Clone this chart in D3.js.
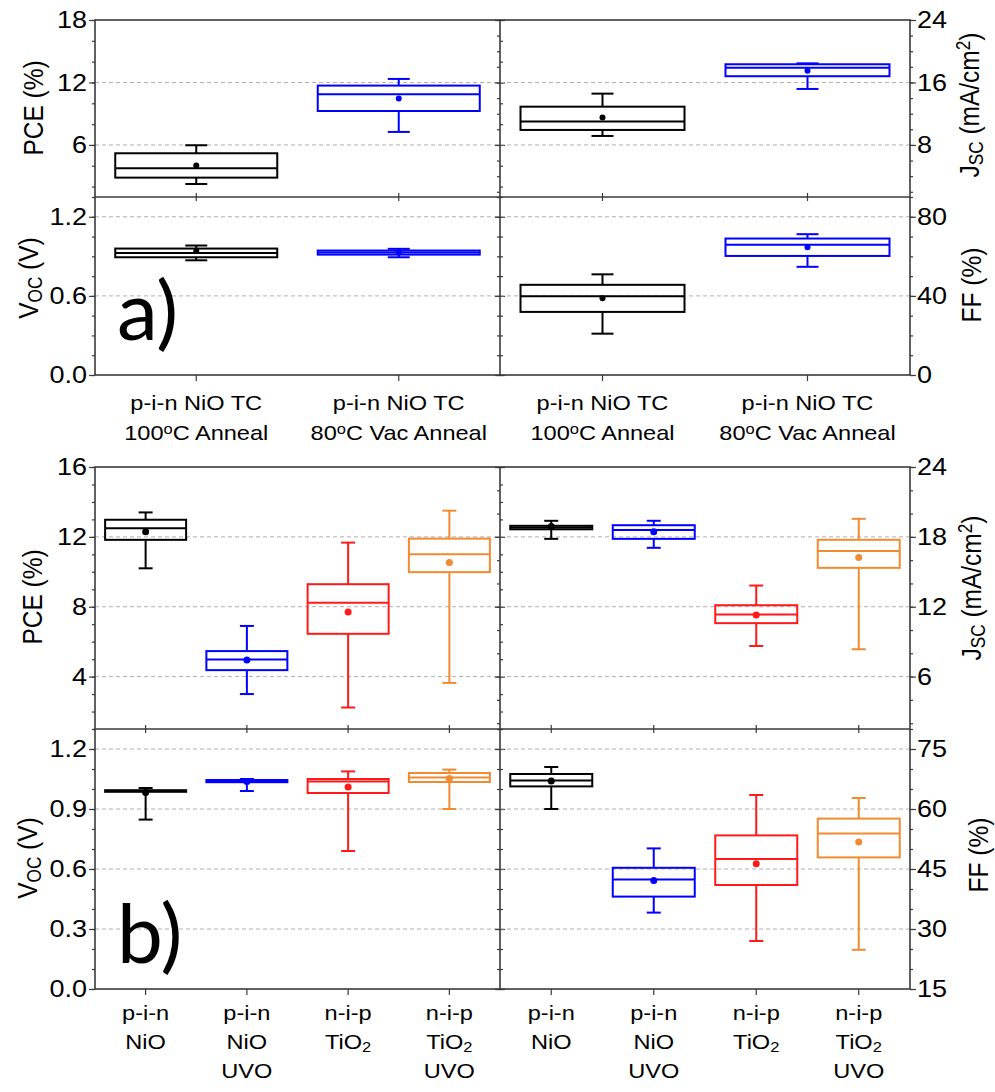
<!DOCTYPE html>
<html>
<head>
<meta charset="utf-8">
<script src="https://cdn.jsdelivr.net/npm/d3@7"></script>
<style>
  body { margin: 0; background: #fff; }
  svg { display: block; }
</style>
</head>
<body>
<script>
// category labels, one entry per line; _{..} = subscript, ^{..} = superscript
var catsA = [['p-i-n NiO TC', '100^{o}C Anneal'], ['p-i-n NiO TC', '80^{o}C Vac Anneal']];
var catsB = [['p-i-n', 'NiO'], ['p-i-n', 'NiO', 'UVO'], ['n-i-p', 'TiO_{2}'], ['n-i-p', 'TiO_{2}', 'UVO']];
var colorsA = ['#000000', '#0000ff'];
var colorsB = ['#000000', '#0000ff', '#ff1a1a', '#f28a30'];

// box stats: [whisker low, Q1, median, Q3, whisker high, mean]
var pceA = [[2.25, 2.86, 3.76, 5.2, 5.97, 4.02], [7.25, 9.26, 10.87, 11.7, 12.34, 10.45]];
var jscA = [[9.15, 9.92, 11.0, 12.9, 14.57, 11.5], [15.17, 16.8, 17.9, 18.33, 18.45, 17.5]];
var vocA = [[0.87, 0.893, 0.926, 0.959, 0.982, 0.94], [0.893, 0.913, 0.93, 0.944, 0.957, 0.93]];
var ffA = [[20.9, 31.9, 39.8, 45.6, 50.9, 38.8], [54.7, 60.2, 65.8, 69.0, 71.2, 64.6]];

var pceB = [[10.2, 11.83, 12.5, 12.98, 13.4, 12.3], [3.0, 4.37, 4.98, 5.46, 6.9, 4.95],
            [2.23, 6.45, 8.23, 9.29, 11.67, 7.7], [3.64, 9.98, 11.0, 11.9, 13.5, 10.53]];
var jscB = [[17.83, 18.65, 18.8, 18.95, 19.38, 18.9], [17.06, 17.83, 18.58, 19.0, 19.38, 18.44],
            [8.63, 10.59, 11.33, 12.13, 13.82, 11.3], [8.35, 15.34, 16.78, 17.75, 19.55, 16.23]];
var vocB = [[0.847, 0.986, 0.99, 0.994, 1.005, 0.983], [0.99, 1.034, 1.04, 1.045, 1.05, 1.038],
            [0.69, 0.98, 1.037, 1.05, 1.088, 1.01], [0.9, 1.035, 1.057, 1.08, 1.097, 1.053]];
var ffB = [[60.0, 65.65, 67.15, 68.75, 70.5, 67.0], [34.1, 38.1, 42.4, 45.3, 50.15, 42.15],
           [27.0, 41.0, 47.5, 53.4, 63.5, 46.3], [24.8, 47.9, 53.9, 57.6, 62.75, 51.75]];

// tick values
var pceATicks = [6, 12, 18], jscATicks = [8, 16, 24], vocATicks = [0, 0.6, 1.2], ffATicks = [0, 40, 80];
var pceBTicks = [4, 8, 12, 16], jscBTicks = [6, 12, 18, 24], vocBTicks = [0, 0.3, 0.6, 0.9, 1.2], ffBTicks = [15, 30, 45, 60, 75];

var W = 995, H = 1092;
var SX = 1.15; // the source figure is stretched horizontally
var FONT = "'Liberation Sans', Arial, sans-serif";
var FRAME = '#3a3a3a';

var svg = d3.select('body').append('svg').attr('width', W).attr('height', H)
  .style('font-family', FONT);

function rich(t, str) {
  str.split(/([_^]\{[^}]*\})/).forEach(function(p) {
    if (!p) return;
    var m = p.match(/^([_^])\{([^}]*)\}$/);
    if (m) {
      t.append('tspan').attr('font-size', '70%')
        .attr('baseline-shift', m[1] === '_' ? '-22%' : '45%').text(m[2]);
    } else {
      t.append('tspan').text(p);
    }
  });
}

function label(g, x, y, str, size, anchor, rotate, dy) {
  var t = g.append('text')
    .attr('transform', 'translate(' + x + ',' + y + ') scale(' + SX + ',1)' + (rotate ? ' rotate(-90)' : ''))
    .attr('text-anchor', anchor)
    .attr('font-size', size)
    .attr('fill', '#000');
  if (dy) t.attr('dy', dy);
  rich(t, str);
  return t;
}

function minorTicks(domain, step) {
  var out = [];
  var start = Math.ceil(domain[0] / step - 1e-6);
  for (var k = start; k * step <= domain[1] + 1e-9; k++) out.push(+(k * step).toFixed(6));
  return out;
}

function drawPanel(p) {
  var g = svg.append('g');
  var n = p.data.length;
  var x = d3.scaleBand().domain(d3.range(n)).range([p.x0, p.x1]);
  var y = d3.scaleLinear().domain(p.domain).range([p.y1, p.y0]);

  // grid
  g.selectAll('line.grid').data(p.ticks.filter(function(t) { return y(t) > p.y0 + 1 && y(t) < p.y1 - 1; }))
    .enter().append('line')
    .attr('x1', p.x0).attr('x2', p.x1)
    .attr('y1', function(d) { return y(d); }).attr('y2', function(d) { return y(d); })
    .attr('stroke', '#b0b0b0').attr('stroke-width', 1).attr('stroke-dasharray', '4,3');

  // y tick marks: outward on the outer edge, across the divider on the inner edge
  var outerX = p.side === 'left' ? p.x0 : p.x1;
  var innerX = p.side === 'left' ? p.x1 : p.x0;
  var yAxis = p.side === 'left' ? d3.axisLeft : d3.axisRight;
  var minors = minorTicks(p.domain, p.minor);
  [[outerX, 6, 3], [innerX, -5, -3]].forEach(function(a) {
    var gm = g.append('g').attr('transform', 'translate(' + a[0] + ',0)')
      .call(yAxis(y).tickValues(minors).tickSize(a[2]).tickFormat(''));
    var gM = g.append('g').attr('transform', 'translate(' + a[0] + ',0)')
      .call(yAxis(y).tickValues(p.ticks).tickSize(a[1]).tickFormat(''));
    [gm, gM].forEach(function(s) {
      s.select('.domain').remove();
      s.selectAll('line').attr('stroke', FRAME).attr('stroke-width', 1.2);
    });
  });

  // y tick labels
  p.ticks.forEach(function(t) {
    if (p.side === 'left') label(g, p.x0 - 8, y(t), p.fmt(t), 23.5, 'end', false, '0.36em');
    else label(g, p.x1 + 7, y(t), p.fmt(t), 23.5, 'start', false, '0.36em');
  });

  // x tick marks
  var xt = function(axis, yy, size) {
    var s = g.append('g').attr('transform', 'translate(0,' + yy + ')')
      .call(axis(x).tickSize(size).tickFormat(''));
    s.select('.domain').remove();
    s.selectAll('line').attr('stroke', FRAME).attr('stroke-width', 1.2);
  };
  if (p.row === 'top') {
    xt(d3.axisTop, p.y1, 4);
  } else {
    xt(d3.axisBottom, p.y0, 4);
    xt(d3.axisBottom, p.y1, 6);
  }

  // boxes
  var bw = x.bandwidth() * 0.8;
  var boxes = g.selectAll('g.box').data(p.data).enter().append('g')
    .attr('stroke', function(d, i) { return p.colors[i]; })
    .attr('fill', 'none').attr('stroke-width', 2);
  var cx = function(i) { return x(i) + x.bandwidth() / 2; };
  boxes.append('rect')
    .attr('x', function(d, i) { return cx(i) - bw / 2; })
    .attr('width', bw)
    .attr('y', function(d) { return y(d[3]); })
    .attr('height', function(d) { return Math.max(0.5, y(d[1]) - y(d[3])); });
  boxes.append('line')
    .attr('x1', function(d, i) { return cx(i) - bw / 2; })
    .attr('x2', function(d, i) { return cx(i) + bw / 2; })
    .attr('y1', function(d) { return y(d[2]); }).attr('y2', function(d) { return y(d[2]); });
  [[3, 4], [1, 0]].forEach(function(pair) {
    boxes.append('line')
      .attr('x1', function(d, i) { return cx(i); }).attr('x2', function(d, i) { return cx(i); })
      .attr('y1', function(d) { return y(d[pair[0]]); }).attr('y2', function(d) { return y(d[pair[1]]); });
    boxes.append('line')
      .attr('x1', function(d, i) { return cx(i) - p.cap / 2; })
      .attr('x2', function(d, i) { return cx(i) + p.cap / 2; })
      .attr('y1', function(d) { return y(d[pair[1]]); }).attr('y2', function(d) { return y(d[pair[1]]); });
  });
  boxes.append('circle')
    .attr('cx', function(d, i) { return cx(i); })
    .attr('cy', function(d) { return y(d[5]); })
    .attr('r', p.dot)
    .attr('stroke', 'none')
    .attr('fill', function(d, i) { return p.colors[i]; });

  // category labels
  if (p.row === 'bottom') {
    p.cats.forEach(function(lines, i) {
      lines.forEach(function(line, j) {
        label(g, cx(i), p.labelY + j * p.lineH, line, 20.5, 'middle', false);
      });
    });
  }

  // axis title
  label(g, p.titleX, p.titleY, p.title, 24.5, 'middle', true);
}

function drawFrame(b) {
  var g = svg.append('g').attr('stroke', FRAME).attr('stroke-width', 1.6).attr('fill', 'none');
  g.append('rect').attr('x', b.x0).attr('y', b.y0).attr('width', b.x2 - b.x0).attr('height', b.y2 - b.y0);
  g.append('line').attr('x1', b.xm).attr('x2', b.xm).attr('y1', b.y0).attr('y2', b.y2);
  g.append('line').attr('x1', b.x0).attr('x2', b.x2).attr('y1', b.ym).attr('y2', b.ym);
}

var f0 = d3.format('d'), f1 = d3.format('.1f');
var blockA = { x0: 95, xm: 500, x2: 910, y0: 20, ym: 197, y2: 375 };
var blockB = { x0: 95, xm: 500, x2: 910, y0: 467, ym: 729, y2: 989 };

function panelsFor(b, sets, extra) {
  return sets.map(function(s) {
    var o = {
      x0: s.side === 'left' ? b.x0 : b.xm, x1: s.side === 'left' ? b.xm : b.x2,
      y0: s.row === 'top' ? b.y0 : b.ym, y1: s.row === 'top' ? b.ym : b.y2
    };
    for (var k in extra) o[k] = extra[k];
    for (var k2 in s) o[k2] = s[k2];
    return o;
  });
}

var panels = panelsFor(blockA, [
  { side: 'left', row: 'top', data: pceA, domain: [1, 18], ticks: pceATicks, minor: 2, fmt: f0,
    title: 'PCE (%)', titleX: 43, titleY: 108 },
  { side: 'right', row: 'top', data: jscA, domain: [4 / 3, 24], ticks: jscATicks, minor: 2, fmt: f0,
    title: 'J_{SC} (mA/cm^{2})', titleX: 979, titleY: 105 },
  { side: 'left', row: 'bottom', data: vocA, domain: [0, 1.35], ticks: vocATicks, minor: 0.15, fmt: f1,
    title: 'V_{OC} (V)', titleX: 38, titleY: 278 },
  { side: 'right', row: 'bottom', data: ffA, domain: [0, 90], ticks: ffATicks, minor: 10, fmt: f0,
    title: 'FF (%)', titleX: 981, titleY: 285 }
], { cats: catsA, colors: colorsA, cap: 22, dot: 3, labelY: 410, lineH: 30 })
.concat(panelsFor(blockB, [
  { side: 'left', row: 'top', data: pceB, domain: [1, 16], ticks: pceBTicks, minor: 1, fmt: f0,
    title: 'PCE (%)', titleX: 42, titleY: 597 },
  { side: 'right', row: 'top', data: jscB, domain: [1.5, 24], ticks: jscBTicks, minor: 2, fmt: f0,
    title: 'J_{SC} (mA/cm^{2})', titleX: 981, titleY: 588 },
  { side: 'left', row: 'bottom', data: vocB, domain: [0, 1.3], ticks: vocBTicks, minor: 0.1, fmt: f1,
    title: 'V_{OC} (V)', titleX: 37, titleY: 858 },
  { side: 'right', row: 'bottom', data: ffB, domain: [15, 80], ticks: ffBTicks, minor: 5, fmt: f0,
    title: 'FF (%)', titleX: 988, titleY: 855 }
], { cats: catsB, colors: colorsB, cap: 14, dot: 3.5, labelY: 1020, lineH: 29 }));

panels.forEach(drawPanel);
drawFrame(blockA);
drawFrame(blockB);

// panel letters
svg.append('text').attr('x', 117).attr('y', 340).attr('font-family', 'Lato, sans-serif')
  .attr('font-size', 82).attr('fill', '#000').text('a)');
svg.append('text').attr('x', 117).attr('y', 963).attr('font-family', 'Lato, sans-serif')
  .attr('font-size', 82).attr('fill', '#000').text('b)');
</script>
</body>
</html>
